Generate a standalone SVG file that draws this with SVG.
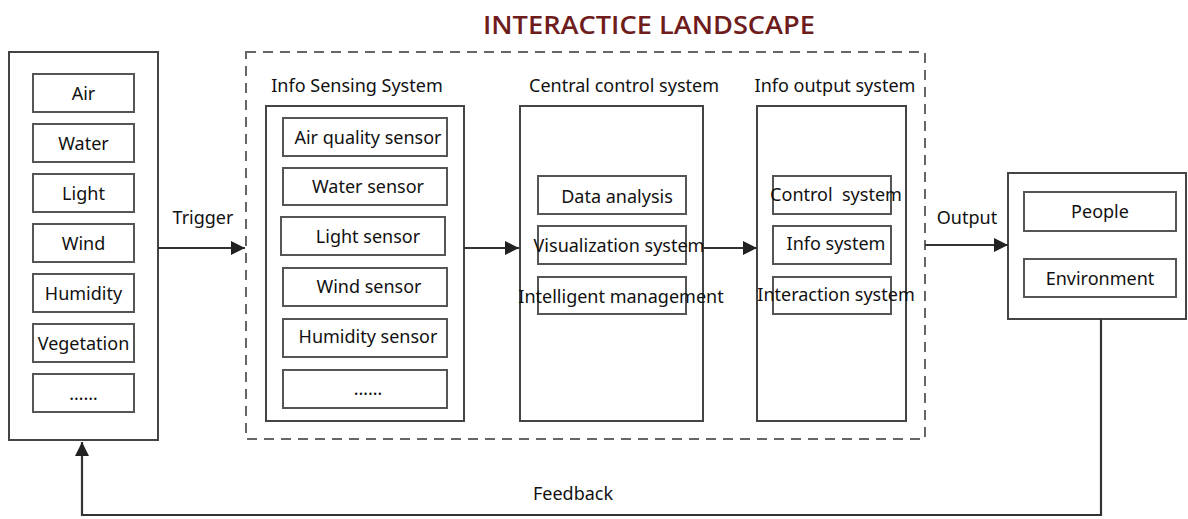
<svg xmlns="http://www.w3.org/2000/svg" width="1188" height="519" viewBox="0 0 1188 519">
<defs>
<style>
.box{fill:#fff;stroke:#444;stroke-width:2}
.ib{fill:#fff;stroke:#555;stroke-width:2}
.t{font-family:"Noto Sans","Open Sans",sans-serif;font-size:18px;fill:#111;text-anchor:middle}
.ln{fill:none;stroke:#333;stroke-width:2.2}
.dash{fill:none;stroke:#666;stroke-width:2;stroke-dasharray:10 7}
</style>
<marker id="ahL" viewBox="0 0 10 10" refX="10" refY="5" markerWidth="14" markerHeight="14" markerUnits="userSpaceOnUse" orient="auto">
<path d="M0,0 L10,5 L0,10 z" fill="#222"/>
</marker>
</defs>
<rect width="1188" height="519" fill="#fff"/>
<text x="649" y="34" style="font-family:'Open Sans','Noto Sans',sans-serif;font-size:25px;font-weight:600;fill:#6e1c1c;text-anchor:middle" textLength="332" lengthAdjust="spacingAndGlyphs">INTERACTICE LANDSCAPE</text>

<g id="landscape-container">
<rect class="dash" x="246" y="52" width="679" height="387"/>
</g>

<g id="elements">
<rect class="box" x="9" y="52" width="149" height="388"/>
<rect class="ib" x="33" y="74" width="101" height="38"/><text class="t" x="83.5" y="100">Air</text>
<rect class="ib" x="33" y="124" width="101" height="38"/><text class="t" x="83.5" y="150">Water</text>
<rect class="ib" x="33" y="174" width="101" height="38"/><text class="t" x="83.5" y="200">Light</text>
<rect class="ib" x="33" y="224" width="101" height="38"/><text class="t" x="83.5" y="250">Wind</text>
<rect class="ib" x="33" y="274" width="101" height="38"/><text class="t" x="83.5" y="300">Humidity</text>
<rect class="ib" x="33" y="324" width="101" height="38"/><text class="t" x="83.5" y="350">Vegetation</text>
<rect class="ib" x="33" y="374" width="101" height="38"/><text class="t" x="83.5" y="400">……</text>
</g>

<g id="info-sensing">
<text class="t" x="357" y="92">Info Sensing System</text>
<rect class="box" x="266" y="106" width="198" height="315"/>
<rect class="ib" x="283" y="118" width="164" height="38"/><text class="t" x="368" y="144">Air quality sensor</text>
<rect class="ib" x="283" y="168" width="164" height="37"/><text class="t" x="368" y="193">Water sensor</text>
<rect class="ib" x="281" y="217" width="164" height="38"/><text class="t" x="368" y="243">Light sensor</text>
<rect class="ib" x="283" y="268" width="164" height="38"/><text class="t" x="369" y="293">Wind sensor</text>
<rect class="ib" x="283" y="319" width="164" height="38"/><text class="t" x="368" y="343">Humidity sensor</text>
<rect class="ib" x="283" y="370" width="164" height="38"/><text class="t" x="368" y="395">……</text>
</g>

<g id="central-control">
<text class="t" x="624" y="92">Central control system</text>
<rect class="box" x="520" y="106" width="183" height="315"/>
<rect class="ib" x="538" y="176" width="148" height="38"/><text class="t" x="617" y="203">Data analysis</text>
<rect class="ib" x="538" y="226" width="148" height="38"/><text class="t" x="619" y="252">Visualization system</text>
<rect class="ib" x="538" y="277" width="148" height="37"/><text class="t" x="621" y="303">Intelligent management</text>
</g>

<g id="info-output">
<text class="t" x="835" y="92">Info output system</text>
<rect class="box" x="757" y="106" width="149" height="315"/>
<rect class="ib" x="773" y="176" width="118" height="38"/><text class="t" x="836" y="201" xml:space="preserve">Control  system</text>
<rect class="ib" x="773" y="226" width="118" height="38"/><text class="t" x="836" y="250">Info system</text>
<rect class="ib" x="773" y="277" width="118" height="37"/><text class="t" x="836" y="301">Interaction system</text>
</g>

<g id="targets">
<rect class="box" x="1008" y="173" width="178" height="146"/>
<rect class="ib" x="1024" y="192" width="152" height="39"/><text class="t" x="1100" y="218">People</text>
<rect class="ib" x="1024" y="259" width="152" height="38"/><text class="t" x="1100" y="285">Environment</text>
</g>

<g id="connectors">
<line class="ln" x1="158" y1="248" x2="245" y2="248" marker-end="url(#ahL)"/>
<text class="t" x="203" y="224">Trigger</text>
<line class="ln" x1="464" y1="248" x2="519" y2="248" marker-end="url(#ahL)"/>
<line class="ln" x1="703" y1="248" x2="757" y2="248" marker-end="url(#ahL)"/>
<line class="ln" x1="925" y1="245" x2="1008" y2="245" marker-end="url(#ahL)"/>
<text class="t" x="967" y="224">Output</text>
<polyline class="ln" points="1101,319 1101,515 82,515 82,442" marker-end="url(#ahL)"/>
<text class="t" x="573" y="500">Feedback</text>
</g>
</svg>
